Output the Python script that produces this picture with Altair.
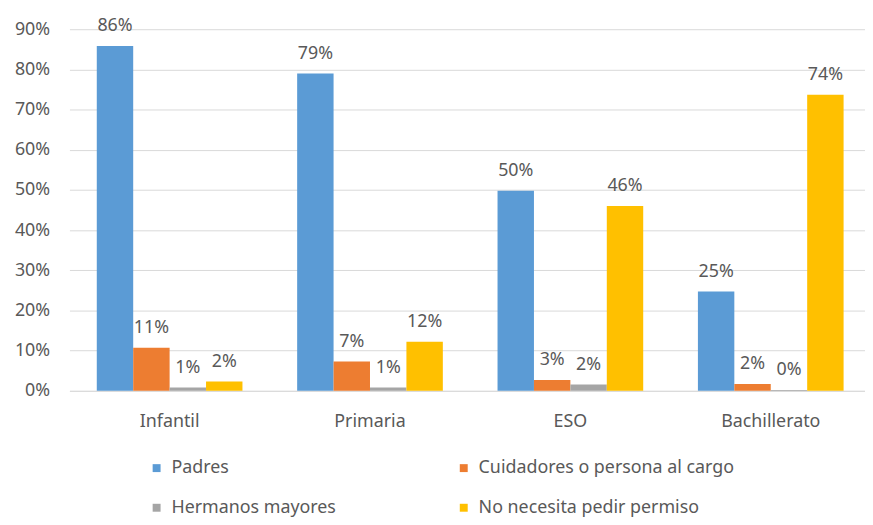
import altair as alt
import pandas as pd

categories = ["Infantil", "Primaria", "ESO", "Bachillerato"]
series = ["Padres", "Cuidadores o persona al cargo", "Hermanos mayores", "No necesita pedir permiso"]
legend_order = ["Padres", "Hermanos mayores", "Cuidadores o persona al cargo", "No necesita pedir permiso"]
colors = ["#5B9BD5", "#ED7D31", "#A5A5A5", "#FFC000"]
padres = [0.858, 0.790, 0.498, 0.247]
cuidadores = [0.107, 0.073, 0.027, 0.017]
hermanos = [0.008, 0.008, 0.016, 0.002]
no_necesita = [0.023, 0.122, 0.460, 0.737]
y_ticks = [0, 0.1, 0.2, 0.3, 0.4, 0.5, 0.6, 0.7, 0.8, 0.9]

rows = []
for vals, s in zip([padres, cuidadores, hermanos, no_necesita], series):
    for c, v in zip(categories, vals):
        rows.append({"cat": c, "serie": s, "val": v})
df = pd.DataFrame(rows)

FONT = "Noto Sans"
TXT = "#595959"
FS = 18

x = alt.X("cat:N", sort=categories, title=None,
          scale=alt.Scale(range=[0, 809], paddingInner=0.273, paddingOuter=0.1365),
          axis=alt.Axis(labelAngle=0, ticks=False, domainColor="#d9d9d9", labelColor=TXT,
                        labelFontSize=FS, labelFont=FONT, labelPadding=22, grid=False))
y = alt.Y("val:Q", title=None,
          scale=alt.Scale(domain=[0, 0.9], nice=False),
          axis=alt.Axis(values=y_ticks, format=".0%", ticks=False, domain=False,
                        labelColor=TXT, labelFontSize=FS, labelFont=FONT, labelPadding=20,
                        gridColor="#d9d9d9"))
xo = alt.XOffset("serie:N", sort=series, scale=alt.Scale(paddingInner=0, paddingOuter=0))
color = alt.Color("serie:N", sort=series, scale=alt.Scale(domain=series, range=colors),
                  legend=alt.Legend(title=None, orient="none", legendX=79, legendY=434,
                                    values=legend_order,
                                    columns=2, columnPadding=119, rowPadding=22,
                                    symbolType="square", symbolSize=64, symbolStrokeWidth=0,
                                    labelFontSize=FS, labelFont=FONT, labelColor=TXT,
                                    labelOffset=6, labelLimit=400))

bars = alt.Chart(df).mark_bar().encode(x=x, y=y, xOffset=xo, color=color)
labels = alt.Chart(df).mark_text(baseline="bottom", dy=-11, fontSize=FS, font=FONT, color=TXT).encode(
    x=x, y=y, xOffset=xo, text=alt.Text("val:Q", format=".0%"))

chart = (bars + labels).properties(
    width=803, height=365,
    autosize=alt.AutoSizeParams(type="none"),
    padding={"left": 62, "top": 19, "right": 0, "bottom": 133},
    background="white",
).configure_view(stroke=None)

chart.save("out.html", embed_options={"renderer": "svg", "actions": False})
